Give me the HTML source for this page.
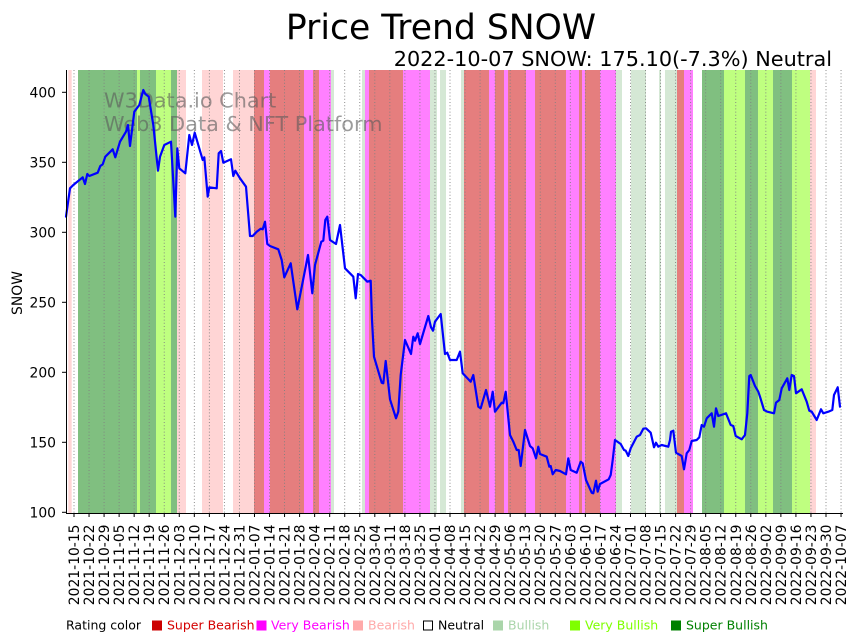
<!DOCTYPE html>
<html>
<head>
<meta charset="utf-8">
<style>
  html,body{margin:0;padding:0;background:#fff;}
  svg{display:block;font-family:"DejaVu Sans","Liberation Sans",sans-serif;}
  .xt{font-size:13.9px;text-anchor:end;fill:#000;}
  .yt{font-size:13.9px;text-anchor:end;fill:#000;}
  .lg{font-size:12.5px;}
</style>
</head>
<body>
<svg width="857" height="641" viewBox="0 0 857 641" xmlns="http://www.w3.org/2000/svg">
  <rect x="0" y="0" width="857" height="641" fill="#fff"/>
  <!-- bands -->
  <g>
    <rect x="68.3" y="70" width="3.4" height="443" fill="#ffd5d5"/>
    <rect x="78" y="70" width="59" height="443" fill="#80bf80"/>
    <rect x="137" y="70" width="3" height="443" fill="#bfff80"/>
    <rect x="140" y="70" width="16" height="443" fill="#80bf80"/>
    <rect x="156" y="70" width="15" height="443" fill="#bfff80"/>
    <rect x="171" y="70" width="6" height="443" fill="#80bf80"/>
    <rect x="177" y="70" width="9" height="443" fill="#ffd5d5"/>
    <rect x="202" y="70" width="21" height="443" fill="#ffd5d5"/>
    <rect x="233" y="70" width="21" height="443" fill="#ffd5d5"/>
    <rect x="254" y="70" width="10" height="443" fill="#e57e7e"/>
    <rect x="264" y="70" width="6" height="443" fill="#ff80ff"/>
    <rect x="270" y="70" width="34" height="443" fill="#e57e7e"/>
    <rect x="304" y="70" width="9" height="443" fill="#ff80ff"/>
    <rect x="313" y="70" width="6" height="443" fill="#e57e7e"/>
    <rect x="319" y="70" width="12" height="443" fill="#ff80ff"/>
    <rect x="331" y="70" width="3" height="443" fill="#d5e8d5"/>
    <rect x="362" y="70" width="3" height="443" fill="#d5e8d5"/>
    <rect x="365" y="70" width="4" height="443" fill="#ff80ff"/>
    <rect x="369" y="70" width="34" height="443" fill="#e57e7e"/>
    <rect x="403" y="70" width="27" height="443" fill="#ff80ff"/>
    <rect x="430" y="70" width="7" height="443" fill="#d5e8d5"/>
    <rect x="440" y="70" width="6" height="443" fill="#d5e8d5"/>
    <rect x="461" y="70" width="3" height="443" fill="#d5e8d5"/>
    <rect x="464" y="70" width="25" height="443" fill="#e57e7e"/>
    <rect x="489" y="70" width="6" height="443" fill="#ff80ff"/>
    <rect x="495" y="70" width="9" height="443" fill="#e57e7e"/>
    <rect x="504" y="70" width="4" height="443" fill="#ff80ff"/>
    <rect x="508" y="70" width="18" height="443" fill="#e57e7e"/>
    <rect x="526" y="70" width="9" height="443" fill="#ff80ff"/>
    <rect x="535" y="70" width="31" height="443" fill="#e57e7e"/>
    <rect x="566" y="70" width="13" height="443" fill="#ff80ff"/>
    <rect x="579" y="70" width="3" height="443" fill="#e57e7e"/>
    <rect x="582" y="70" width="3" height="443" fill="#ff80ff"/>
    <rect x="585" y="70" width="15" height="443" fill="#e57e7e"/>
    <rect x="600" y="70" width="16" height="443" fill="#ff80ff"/>
    <rect x="616" y="70" width="6" height="443" fill="#d5e8d5"/>
    <rect x="631" y="70" width="15" height="443" fill="#d5e8d5"/>
    <rect x="659" y="70" width="2" height="443" fill="#d5e8d5"/>
    <rect x="665" y="70" width="12" height="443" fill="#d5e8d5"/>
    <rect x="677" y="70" width="7" height="443" fill="#e57e7e"/>
    <rect x="684" y="70" width="9" height="443" fill="#ff80ff"/>
    <rect x="702" y="70" width="22" height="443" fill="#80bf80"/>
    <rect x="724" y="70" width="21" height="443" fill="#bfff80"/>
    <rect x="745" y="70" width="13" height="443" fill="#80bf80"/>
    <rect x="758" y="70" width="15" height="443" fill="#bfff80"/>
    <rect x="773" y="70" width="19" height="443" fill="#80bf80"/>
    <rect x="792" y="70" width="18" height="443" fill="#bfff80"/>
    <rect x="810" y="70" width="6" height="443" fill="#ffd5d5"/>
  </g>
  <!-- dotted grid -->
  <g stroke="#808080" stroke-width="0.9" stroke-dasharray="1 2.2">
    <line x1="74" y1="70" x2="74" y2="513"/><line x1="89.04" y1="70" x2="89.04" y2="513"/><line x1="104.08" y1="70" x2="104.08" y2="513"/><line x1="119.12" y1="70" x2="119.12" y2="513"/><line x1="134.16" y1="70" x2="134.16" y2="513"/><line x1="149.2" y1="70" x2="149.2" y2="513"/><line x1="164.24" y1="70" x2="164.24" y2="513"/><line x1="179.28" y1="70" x2="179.28" y2="513"/><line x1="194.32" y1="70" x2="194.32" y2="513"/><line x1="209.36" y1="70" x2="209.36" y2="513"/><line x1="224.4" y1="70" x2="224.4" y2="513"/><line x1="239.44" y1="70" x2="239.44" y2="513"/><line x1="254.48" y1="70" x2="254.48" y2="513"/><line x1="269.52" y1="70" x2="269.52" y2="513"/><line x1="284.56" y1="70" x2="284.56" y2="513"/><line x1="299.6" y1="70" x2="299.6" y2="513"/><line x1="314.64" y1="70" x2="314.64" y2="513"/><line x1="329.68" y1="70" x2="329.68" y2="513"/><line x1="344.72" y1="70" x2="344.72" y2="513"/><line x1="359.76" y1="70" x2="359.76" y2="513"/><line x1="374.8" y1="70" x2="374.8" y2="513"/><line x1="389.84" y1="70" x2="389.84" y2="513"/><line x1="404.88" y1="70" x2="404.88" y2="513"/><line x1="419.92" y1="70" x2="419.92" y2="513"/><line x1="434.96" y1="70" x2="434.96" y2="513"/><line x1="450" y1="70" x2="450" y2="513"/><line x1="465.04" y1="70" x2="465.04" y2="513"/><line x1="480.08" y1="70" x2="480.08" y2="513"/><line x1="495.12" y1="70" x2="495.12" y2="513"/><line x1="510.16" y1="70" x2="510.16" y2="513"/><line x1="525.2" y1="70" x2="525.2" y2="513"/><line x1="540.24" y1="70" x2="540.24" y2="513"/><line x1="555.28" y1="70" x2="555.28" y2="513"/><line x1="570.32" y1="70" x2="570.32" y2="513"/><line x1="585.36" y1="70" x2="585.36" y2="513"/><line x1="600.4" y1="70" x2="600.4" y2="513"/><line x1="615.44" y1="70" x2="615.44" y2="513"/><line x1="630.48" y1="70" x2="630.48" y2="513"/><line x1="645.52" y1="70" x2="645.52" y2="513"/><line x1="660.56" y1="70" x2="660.56" y2="513"/><line x1="675.6" y1="70" x2="675.6" y2="513"/><line x1="690.64" y1="70" x2="690.64" y2="513"/><line x1="705.68" y1="70" x2="705.68" y2="513"/><line x1="720.72" y1="70" x2="720.72" y2="513"/><line x1="735.76" y1="70" x2="735.76" y2="513"/><line x1="750.8" y1="70" x2="750.8" y2="513"/><line x1="765.84" y1="70" x2="765.84" y2="513"/><line x1="780.88" y1="70" x2="780.88" y2="513"/><line x1="795.92" y1="70" x2="795.92" y2="513"/><line x1="810.96" y1="70" x2="810.96" y2="513"/><line x1="826" y1="70" x2="826" y2="513"/><line x1="841.04" y1="70" x2="841.04" y2="513"/>
  </g>
  <!-- watermark -->
  <text x="104" y="107.5" font-size="20.8" fill="rgba(90,90,90,0.6)">W3Data.io Chart</text>
  <text x="104" y="131" font-size="20.8" fill="rgba(90,90,90,0.6)">Web3 Data &amp; NFT Platform</text>
  <!-- price line -->
  <polyline fill="none" stroke="#0000ff" stroke-width="2.2" stroke-linejoin="round" stroke-linecap="round" points="
66,216.7 70,188.3 73.3,185 82.7,177.3 85,184 87.3,174 89.3,176 97.7,172.7 100.3,166 102.7,164.3 105.3,156.7 112.7,149.3 115.3,157.3 120,141.7 126,131.7 128,125 130,146 134.3,111.7 139.3,105 143.3,90 145.3,94 148.7,96.7 153.3,125 158,170.7 160,156.7 164.3,145 171,141.7 175.3,216.7 177.3,148.3 179.3,168.3 185.3,173.3 189.3,135 192,145 194.7,132.7 202.7,160 204.3,157.3 207.7,196.7 209.3,187.3 216.7,188.3 218.7,153.3 221,151 223.3,162.7 231,159.3 233.3,176 235.3,170.7 240,178.3 246,186.7 250,236
252.7,236 256.7,231.7 260.7,228.7 262.7,229.3 265,221.7 267.3,244 270,246 278.3,249.3 281.7,260 284.3,277.3 290.7,263.3 297.3,309.3 308,255 312.3,293.3 315,265 321.3,241.7 323.3,240.7 325.3,220 327.3,216.7 330,240 336,244 340,225 345,268.3 353.3,276.7 355.7,298.3 358,274 360.7,275 367.3,281.7 370.7,280.7 372,320 374,356.7 381.7,382.7 383.3,383.3 385.7,361 390,399.3 396,418.3 398.3,411.7 400.7,375 405,340 411,354 413.3,336.7 415,340.7 417.7,333.3 420,344 428.3,316 431,327.3 433,330.7 435,321.7 440.7,314 445,354 447.3,352.7 450,360 456.7,360 460,351.7 462.7,373.3 470.7,381.7 473.3,375 478.3,406.7 480.7,408.3 486,390 490,406.7 492.7,391.7 495,411.7 501.7,402.7 503.3,403.3 505.7,391.7 510,435 513.3,441.7 516.7,450 518.7,450 520.7,466 525,430 530,446 532.7,448.3 536,458.3 538.3,446.7 540,454 546.7,456.7 549.3,466.7 550.7,466 552.7,474.3 555.7,470 560,471 566,474.3 568.3,458.3 570.7,470 576.7,472.7 580.7,461.7 582.7,463.3 586,480 591.7,492.7 593.3,493.3 596,480.7 597.7,491.7 600,484 608.7,479.3 610.7,475 612.7,460 615,440 620.7,444 624,450 625.7,450.7 628.3,456 630.7,448.3 636.7,436.7 640,435 643.3,428.7 646,428.3 650.7,432.7 654,447.3 656,442.7 658.3,446.7 661.7,445 668.3,446.7 670,440 671,431.7 673.3,430.7 676,452.7 681.7,456 684,469.3 686.7,453.3 689.3,450 691.7,441 696.7,440 699.3,437.3 701.7,425 704,426.7 706.7,418.3 711.7,413.3 714,426.7 716,408.3 718.3,416 726,413.3 730.7,425 733.3,426 735.7,436 741.7,439.3 745,435 747.3,413.3 749.3,376 750.7,375 755,386 758.3,391.7 760,396.7 764,410 767.3,411.7 774,413.3 776,402.7 779.3,400 781.7,388.3 787.3,378.3 789.3,390 791.7,375 794,376 796,393.3 801.7,389.3 806.7,401.7 809.3,410.7 811.7,411.7 816.7,420 821,409.3 823.3,413.3 828.3,411.7 832.3,410 834,395 837.7,387.3 840,406.7"/>
  <!-- axes -->
  <line x1="66.5" y1="70" x2="66.5" y2="513.5" stroke="#000" stroke-width="1"/>
  <line x1="66" y1="513.5" x2="843" y2="513.5" stroke="#000" stroke-width="1"/>
  <!-- y ticks -->
  <g stroke="#000" stroke-width="1">
    <line x1="62" y1="512.3" x2="66" y2="512.3"/>
    <line x1="62" y1="442.3" x2="66" y2="442.3"/>
    <line x1="62" y1="372.3" x2="66" y2="372.3"/>
    <line x1="62" y1="302.3" x2="66" y2="302.3"/>
    <line x1="62" y1="232.3" x2="66" y2="232.3"/>
    <line x1="62" y1="162.3" x2="66" y2="162.3"/>
    <line x1="62" y1="92.3" x2="66" y2="92.3"/>
  </g>
  <g class="yt">
    <text class="yt" x="56" y="517.3">100</text>
    <text class="yt" x="56" y="447.3">150</text>
    <text class="yt" x="56" y="377.3">200</text>
    <text class="yt" x="56" y="307.3">250</text>
    <text class="yt" x="56" y="237.3">300</text>
    <text class="yt" x="56" y="167.3">350</text>
    <text class="yt" x="56" y="97.3">400</text>
  </g>
  <text transform="translate(17,293) rotate(-90)" y="5" font-size="13.9" text-anchor="middle">SNOW</text>
  <!-- x ticks -->
  <g stroke="#000" stroke-width="1">
    <line x1="74" y1="513" x2="74" y2="517"/><line x1="89.04" y1="513" x2="89.04" y2="517"/><line x1="104.08" y1="513" x2="104.08" y2="517"/><line x1="119.12" y1="513" x2="119.12" y2="517"/><line x1="134.16" y1="513" x2="134.16" y2="517"/><line x1="149.2" y1="513" x2="149.2" y2="517"/><line x1="164.24" y1="513" x2="164.24" y2="517"/><line x1="179.28" y1="513" x2="179.28" y2="517"/><line x1="194.32" y1="513" x2="194.32" y2="517"/><line x1="209.36" y1="513" x2="209.36" y2="517"/><line x1="224.4" y1="513" x2="224.4" y2="517"/><line x1="239.44" y1="513" x2="239.44" y2="517"/><line x1="254.48" y1="513" x2="254.48" y2="517"/><line x1="269.52" y1="513" x2="269.52" y2="517"/><line x1="284.56" y1="513" x2="284.56" y2="517"/><line x1="299.6" y1="513" x2="299.6" y2="517"/><line x1="314.64" y1="513" x2="314.64" y2="517"/><line x1="329.68" y1="513" x2="329.68" y2="517"/><line x1="344.72" y1="513" x2="344.72" y2="517"/><line x1="359.76" y1="513" x2="359.76" y2="517"/><line x1="374.8" y1="513" x2="374.8" y2="517"/><line x1="389.84" y1="513" x2="389.84" y2="517"/><line x1="404.88" y1="513" x2="404.88" y2="517"/><line x1="419.92" y1="513" x2="419.92" y2="517"/><line x1="434.96" y1="513" x2="434.96" y2="517"/><line x1="450" y1="513" x2="450" y2="517"/><line x1="465.04" y1="513" x2="465.04" y2="517"/><line x1="480.08" y1="513" x2="480.08" y2="517"/><line x1="495.12" y1="513" x2="495.12" y2="517"/><line x1="510.16" y1="513" x2="510.16" y2="517"/><line x1="525.2" y1="513" x2="525.2" y2="517"/><line x1="540.24" y1="513" x2="540.24" y2="517"/><line x1="555.28" y1="513" x2="555.28" y2="517"/><line x1="570.32" y1="513" x2="570.32" y2="517"/><line x1="585.36" y1="513" x2="585.36" y2="517"/><line x1="600.4" y1="513" x2="600.4" y2="517"/><line x1="615.44" y1="513" x2="615.44" y2="517"/><line x1="630.48" y1="513" x2="630.48" y2="517"/><line x1="645.52" y1="513" x2="645.52" y2="517"/><line x1="660.56" y1="513" x2="660.56" y2="517"/><line x1="675.6" y1="513" x2="675.6" y2="517"/><line x1="690.64" y1="513" x2="690.64" y2="517"/><line x1="705.68" y1="513" x2="705.68" y2="517"/><line x1="720.72" y1="513" x2="720.72" y2="517"/><line x1="735.76" y1="513" x2="735.76" y2="517"/><line x1="750.8" y1="513" x2="750.8" y2="517"/><line x1="765.84" y1="513" x2="765.84" y2="517"/><line x1="780.88" y1="513" x2="780.88" y2="517"/><line x1="795.92" y1="513" x2="795.92" y2="517"/><line x1="810.96" y1="513" x2="810.96" y2="517"/><line x1="826" y1="513" x2="826" y2="517"/><line x1="841.04" y1="513" x2="841.04" y2="517"/>
  </g>
  <g>
    <text class="xt" transform="translate(74,524.5) rotate(-90)" y="5">2021-10-15</text>
    <text class="xt" transform="translate(89.04,524.5) rotate(-90)" y="5">2021-10-22</text>
    <text class="xt" transform="translate(104.08,524.5) rotate(-90)" y="5">2021-10-29</text>
    <text class="xt" transform="translate(119.12,524.5) rotate(-90)" y="5">2021-11-05</text>
    <text class="xt" transform="translate(134.16,524.5) rotate(-90)" y="5">2021-11-12</text>
    <text class="xt" transform="translate(149.2,524.5) rotate(-90)" y="5">2021-11-19</text>
    <text class="xt" transform="translate(164.24,524.5) rotate(-90)" y="5">2021-11-26</text>
    <text class="xt" transform="translate(179.28,524.5) rotate(-90)" y="5">2021-12-03</text>
    <text class="xt" transform="translate(194.32,524.5) rotate(-90)" y="5">2021-12-10</text>
    <text class="xt" transform="translate(209.36,524.5) rotate(-90)" y="5">2021-12-17</text>
    <text class="xt" transform="translate(224.4,524.5) rotate(-90)" y="5">2021-12-24</text>
    <text class="xt" transform="translate(239.44,524.5) rotate(-90)" y="5">2021-12-31</text>
    <text class="xt" transform="translate(254.48,524.5) rotate(-90)" y="5">2022-01-07</text>
    <text class="xt" transform="translate(269.52,524.5) rotate(-90)" y="5">2022-01-14</text>
    <text class="xt" transform="translate(284.56,524.5) rotate(-90)" y="5">2022-01-21</text>
    <text class="xt" transform="translate(299.6,524.5) rotate(-90)" y="5">2022-01-28</text>
    <text class="xt" transform="translate(314.64,524.5) rotate(-90)" y="5">2022-02-04</text>
    <text class="xt" transform="translate(329.68,524.5) rotate(-90)" y="5">2022-02-11</text>
    <text class="xt" transform="translate(344.72,524.5) rotate(-90)" y="5">2022-02-18</text>
    <text class="xt" transform="translate(359.76,524.5) rotate(-90)" y="5">2022-02-25</text>
    <text class="xt" transform="translate(374.8,524.5) rotate(-90)" y="5">2022-03-04</text>
    <text class="xt" transform="translate(389.84,524.5) rotate(-90)" y="5">2022-03-11</text>
    <text class="xt" transform="translate(404.88,524.5) rotate(-90)" y="5">2022-03-18</text>
    <text class="xt" transform="translate(419.92,524.5) rotate(-90)" y="5">2022-03-25</text>
    <text class="xt" transform="translate(434.96,524.5) rotate(-90)" y="5">2022-04-01</text>
    <text class="xt" transform="translate(450,524.5) rotate(-90)" y="5">2022-04-08</text>
    <text class="xt" transform="translate(465.04,524.5) rotate(-90)" y="5">2022-04-15</text>
    <text class="xt" transform="translate(480.08,524.5) rotate(-90)" y="5">2022-04-22</text>
    <text class="xt" transform="translate(495.12,524.5) rotate(-90)" y="5">2022-04-29</text>
    <text class="xt" transform="translate(510.16,524.5) rotate(-90)" y="5">2022-05-06</text>
    <text class="xt" transform="translate(525.2,524.5) rotate(-90)" y="5">2022-05-13</text>
    <text class="xt" transform="translate(540.24,524.5) rotate(-90)" y="5">2022-05-20</text>
    <text class="xt" transform="translate(555.28,524.5) rotate(-90)" y="5">2022-05-27</text>
    <text class="xt" transform="translate(570.32,524.5) rotate(-90)" y="5">2022-06-03</text>
    <text class="xt" transform="translate(585.36,524.5) rotate(-90)" y="5">2022-06-10</text>
    <text class="xt" transform="translate(600.4,524.5) rotate(-90)" y="5">2022-06-17</text>
    <text class="xt" transform="translate(615.44,524.5) rotate(-90)" y="5">2022-06-24</text>
    <text class="xt" transform="translate(630.48,524.5) rotate(-90)" y="5">2022-07-01</text>
    <text class="xt" transform="translate(645.52,524.5) rotate(-90)" y="5">2022-07-08</text>
    <text class="xt" transform="translate(660.56,524.5) rotate(-90)" y="5">2022-07-15</text>
    <text class="xt" transform="translate(675.6,524.5) rotate(-90)" y="5">2022-07-22</text>
    <text class="xt" transform="translate(690.64,524.5) rotate(-90)" y="5">2022-07-29</text>
    <text class="xt" transform="translate(705.68,524.5) rotate(-90)" y="5">2022-08-05</text>
    <text class="xt" transform="translate(720.72,524.5) rotate(-90)" y="5">2022-08-12</text>
    <text class="xt" transform="translate(735.76,524.5) rotate(-90)" y="5">2022-08-19</text>
    <text class="xt" transform="translate(750.8,524.5) rotate(-90)" y="5">2022-08-26</text>
    <text class="xt" transform="translate(765.84,524.5) rotate(-90)" y="5">2022-09-02</text>
    <text class="xt" transform="translate(780.88,524.5) rotate(-90)" y="5">2022-09-09</text>
    <text class="xt" transform="translate(795.92,524.5) rotate(-90)" y="5">2022-09-16</text>
    <text class="xt" transform="translate(810.96,524.5) rotate(-90)" y="5">2022-09-23</text>
    <text class="xt" transform="translate(826,524.5) rotate(-90)" y="5">2022-09-30</text>
    <text class="xt" transform="translate(841.04,524.5) rotate(-90)" y="5">2022-10-07</text>
  </g>
  <!-- titles -->
  <text x="441" y="39" font-size="34.6" text-anchor="middle" fill="#000">Price Trend SNOW</text>
  <text x="832" y="66" font-size="20.8" text-anchor="end" fill="#000">2022-10-07 SNOW: 175.10(-7.3%) Neutral</text>
  <!-- legend -->
  <text class="lg" x="66" y="629.5" fill="#000">Rating color</text>
  <rect x="152" y="620.5" width="10" height="10" fill="#cc0000"/>
  <text class="lg" x="167" y="629.5" fill="#d40000">Super Bearish</text>
  <rect x="256.5" y="620.5" width="10" height="10" fill="#ff00ff"/>
  <text class="lg" x="271" y="629.5" fill="#ff00ff">Very Bearish</text>
  <rect x="353" y="620.5" width="10" height="10" fill="#ffaaaa"/>
  <text class="lg" x="368" y="629.5" fill="#ffaaaa">Bearish</text>
  <rect x="423.5" y="621" width="9" height="9" fill="#fff" stroke="#000" stroke-width="1"/>
  <text class="lg" x="438" y="629.5" fill="#000">Neutral</text>
  <rect x="493" y="620.5" width="10" height="10" fill="#aad5aa"/>
  <text class="lg" x="508" y="629.5" fill="#aad5aa">Bullish</text>
  <rect x="570" y="620.5" width="10" height="10" fill="#7fff00"/>
  <text class="lg" x="585" y="629.5" fill="#7fff00">Very Bullish</text>
  <rect x="671" y="620.5" width="10" height="10" fill="#008000"/>
  <text class="lg" x="686" y="629.5" fill="#008000">Super Bullish</text>
</svg>
</body>
</html>
